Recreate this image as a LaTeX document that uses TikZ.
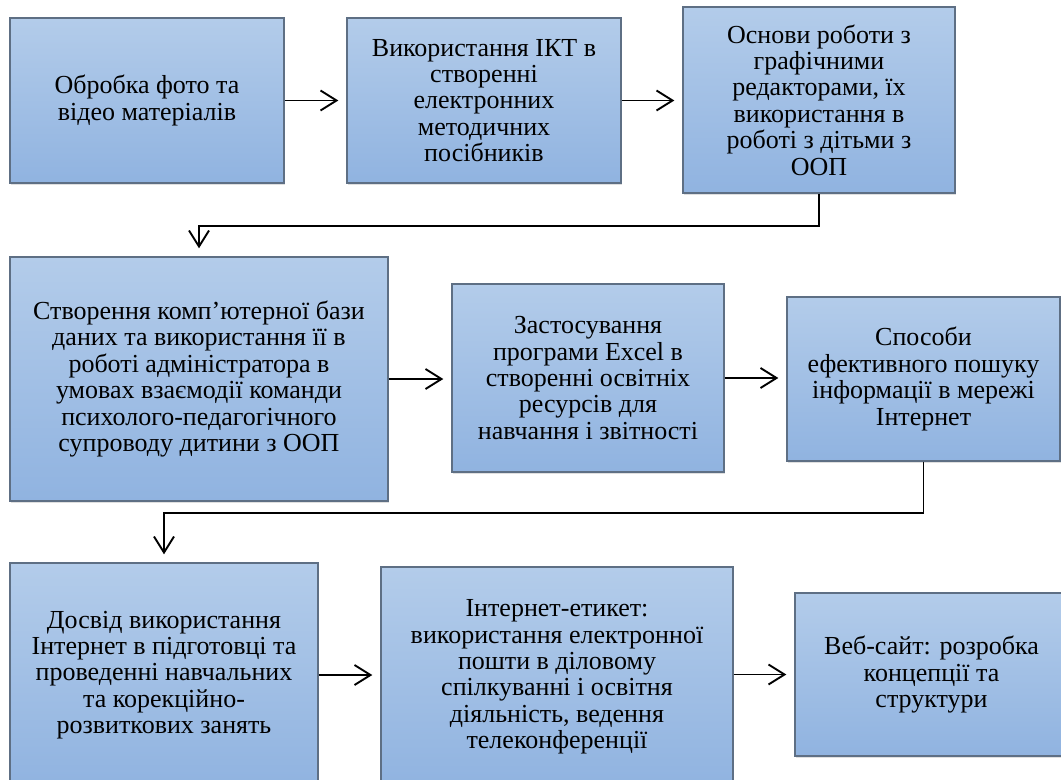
\documentclass[tikz,border=0pt]{standalone}
\usepackage{fontspec}
\setmainfont{Liberation Serif}
\usetikzlibrary{arrows.meta,shadows}
\definecolor{boxtop}{HTML}{B3CCEA}
\definecolor{boxbot}{HTML}{90B3E0}
\definecolor{boxline}{HTML}{5E6F84}
\begin{document}
\begin{tikzpicture}[x=1bp,y=-1bp,
  box/.style={draw=boxline, line width=1.4bp, top color=boxtop, bottom color=boxbot,
    align=center, inner sep=0pt, font=\fontsize{26bp}{26.4bp}\selectfont,
    drop shadow={opacity=0.25, shadow xshift=1bp, shadow yshift=-1.5bp}},
  conn/.style={line width=1.9bp, -{Straight Barb[length=16bp,width=20bp]}, shorten >=8bp}]
\useasboundingbox (0,0) rectangle (1061,780);
\begin{scope}
\clip (0,0) rectangle (1061,780);
% row 1
\node[box, minimum width=274bp, minimum height=165bp] (b1) at (147,100.5)
  {Обробка фото та\\відео матеріалів};
\node[box, minimum width=274bp, minimum height=165bp] (b2) at (484,100.5)
  {Використання ІКТ в\\створенні\\електронних\\методичних\\посібників};
\node[box, minimum width=272bp, minimum height=186bp] (b3) at (819,100)
  {Основи роботи з\\графічними\\редакторами, їх\\використання в\\роботі з дітьми з\\ООП};
% row 2
\node[box, minimum width=378bp, minimum height=244bp] (b4) at (199,379)
  {Створення комп’ютерної бази\\даних та використання її в\\роботі адміністратора в\\умовах взаємодії команди\\психолого-педагогічного\\супроводу дитини з ООП};
\node[box, minimum width=272bp, minimum height=188bp] (b5) at (588,378)
  {Застосування\\програми Excel в\\створенні освітніх\\ресурсів для\\навчання і звітності};
\node[box, minimum width=273bp, minimum height=164bp] (b6) at (923.5,379)
  {Способи\\ефективного пошуку\\інформації в мережі\\Інтернет};
% row 3
\node[box, minimum width=308bp, minimum height=224bp] (b7) at (164,675)
  {Досвід використання\\Інтернет в підготовці та\\проведенні навчальних\\та корекційно-\\розвиткових занять};
\node[box, minimum width=352bp, minimum height=220bp] (b8) at (557,677)
  {Інтернет-етикет:\\використання електронної\\пошти в діловому\\спілкуванні і освітня\\діяльність, ведення\\телеконференції};
\node[box, minimum width=273bp, minimum height=163bp] (b9) at (931.5,674.5)
  {Веб-сайт: розробка\\концепції та\\структури};
% connectors
\draw[conn] (b1.east) -- (b1.east -| b2.west);
\draw[conn] (b2.east) -- (b2.east -| b3.west);
\draw[conn] (b3.south) -- ++(0,32) -| (b4.north);
\draw[conn] (b4.east) -- (b4.east -| b5.west);
\draw[conn] (b5.east) -- (b5.east -| b6.west);
\draw[conn] (b6.south) -- ++(0,51) -| (b7.north);
\draw[conn] (b7.east) -- (b7.east -| b8.west);
\draw[conn] (b9.west -| b8.east) -- (b9.west);
\end{scope}
\end{tikzpicture}
\end{document}
